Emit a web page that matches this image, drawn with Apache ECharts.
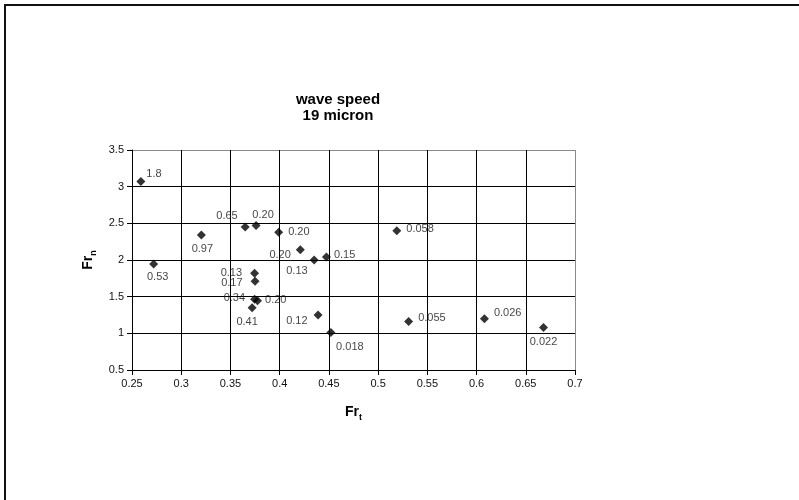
<!DOCTYPE html>
<html>
<head>
<meta charset="utf-8">
<script src="https://cdn.jsdelivr.net/npm/echarts@6/dist/echarts.min.js"></script>
<style>
  html, body { margin: 0; padding: 0; background: #fff; }
  #chart { width: 799px; height: 500px; }
</style>
</head>
<body>
<div id="chart"></div>
<script>
// Measured points: tangential Froude number, normal Froude number, wave speed
const frT = [0.259, 0.3205, 0.365, 0.376, 0.399, 0.421, 0.435, 0.4475, 0.519, 0.272,
             0.3745, 0.375, 0.3745, 0.3775, 0.372, 0.439, 0.452, 0.531, 0.608, 0.668];
const frN = [3.07, 2.34, 2.45, 2.47, 2.38, 2.14, 2.0, 2.04, 2.40, 1.945,
             1.82, 1.71, 1.465, 1.445, 1.35, 1.25, 1.01, 1.16, 1.20, 1.08];
const waveSpeed = ['1.8', '0.97', '0.65', '0.20', '0.20', '0.20', '0.13', '0.15', '0.058', '0.53',
                   '0.13', '0.17', '0.34', '0.20', '0.41', '0.12', '0.018', '0.055', '0.026', '0.022'];

// Axis ticks
const xTicks = { min: 0.25, max: 0.7, step: 0.05 };
const yTicks = { min: 0.5, max: 3.5, step: 0.5 };

// Where each value label sits relative to its marker
const labelPlace = [
  ['right', 1, [0, -8]], ['bottom', 4, [1, 0]], ['left', 3, [0, -11]], ['top', 1, [7, 0]],
  ['right', 5, [0, 0]], ['left', 5, [0, 5]], ['left', 2, [0, 11]], ['right', 3, [0, -2]],
  ['right', 5, [0, -2]], ['bottom', 3, [4, 0]], ['left', 8, [0, 0]], ['left', 8, [0, 2]],
  ['left', 5, [0, -1]], ['right', 3, [0, -1]], ['bottom', 4, [-5, 0]], ['left', 6, [0, 6]],
  ['bottom', 2, [19, 2]], ['right', 5, [0, -4]], ['right', 5, [0, -6]], ['bottom', 5, [0, 0]]
];

const points = frT.map((x, i) => ({
  value: [x, frN[i]],
  label: {
    formatter: waveSpeed[i],
    position: labelPlace[i][0],
    distance: labelPlace[i][1],
    offset: labelPlace[i][2]
  }
}));

const font = 'Liberation Sans, Arial, sans-serif';
const nX = Math.round((xTicks.max - xTicks.min) / xTicks.step) + 1;
const nY = Math.round((yTicks.max - yTicks.min) / yTicks.step) + 1;
const xLineColors = Array.from({ length: nX }, (_, i) => i === nX - 1 ? '#8a8a8a' : '#000');
const yLineColors = Array.from({ length: nY }, (_, i) => i === nY - 1 ? '#8a8a8a' : '#000');

const nameRich = {
  a: { fontFamily: font, fontSize: 14, fontWeight: 'bold', color: '#000', verticalAlign: 'bottom', lineHeight: 16 },
  s: { fontFamily: font, fontSize: 9, fontWeight: 'bold', color: '#000', verticalAlign: 'bottom', lineHeight: 11, padding: [0, 0, -3, 0] }
};

const chart = echarts.init(document.getElementById('chart'), null, { renderer: 'canvas' });
chart.setOption({
  backgroundColor: '#fff',
  animation: false,
  title: {
    text: 'wave speed\n19 micron',
    left: 333,
    top: 87,
    textAlign: 'center',
    textStyle: { fontFamily: font, fontSize: 15, fontWeight: 'bold', color: '#000', lineHeight: 16 }
  },
  grid: { left: 132, right: 224, top: 150, bottom: 130, containLabel: false },
  xAxis: {
    type: 'value',
    min: xTicks.min, max: xTicks.max, interval: xTicks.step,
    name: '{a|Fr}{s|t}',
    nameLocation: 'middle',
    nameGap: 33,
    nameTextStyle: { rich: nameRich },
    axisLine: { show: true, lineStyle: { color: '#000', width: 1 } },
    axisTick: { show: true, inside: false, length: 5, lineStyle: { color: '#000' } },
    axisLabel: {
      fontFamily: font, fontSize: 11, color: '#111', margin: 8,
      formatter: v => String(parseFloat(v.toFixed(2)))
    },
    splitLine: { show: true, lineStyle: { color: xLineColors, width: 1 } }
  },
  yAxis: {
    type: 'value',
    min: yTicks.min, max: yTicks.max, interval: yTicks.step,
    name: '{a|Fr}{s|n}',
    nameLocation: 'middle',
    nameGap: 37,
    nameTextStyle: { rich: nameRich },
    axisLine: { show: true, lineStyle: { color: '#000', width: 1 } },
    axisTick: { show: true, inside: false, length: 5, lineStyle: { color: '#000' } },
    axisLabel: {
      fontFamily: font, fontSize: 11, color: '#111', margin: 8,
      formatter: v => String(parseFloat(v.toFixed(1)))
    },
    splitLine: { show: true, lineStyle: { color: yLineColors, width: 1 } }
  },
  series: [{
    type: 'scatter',
    symbol: 'diamond',
    symbolSize: 9,
    itemStyle: { color: '#000' },
    label: { show: true, fontFamily: font, fontSize: 11, color: '#111' },
    data: points,
    z: 5
  }],
  graphic: [{
    type: 'rect',
    shape: { x: 5, y: 5, width: 1000, height: 1000 },
    style: { fill: 'none', stroke: '#111', lineWidth: 2 },
    silent: true
  }]
});
</script>
</body>
</html>
